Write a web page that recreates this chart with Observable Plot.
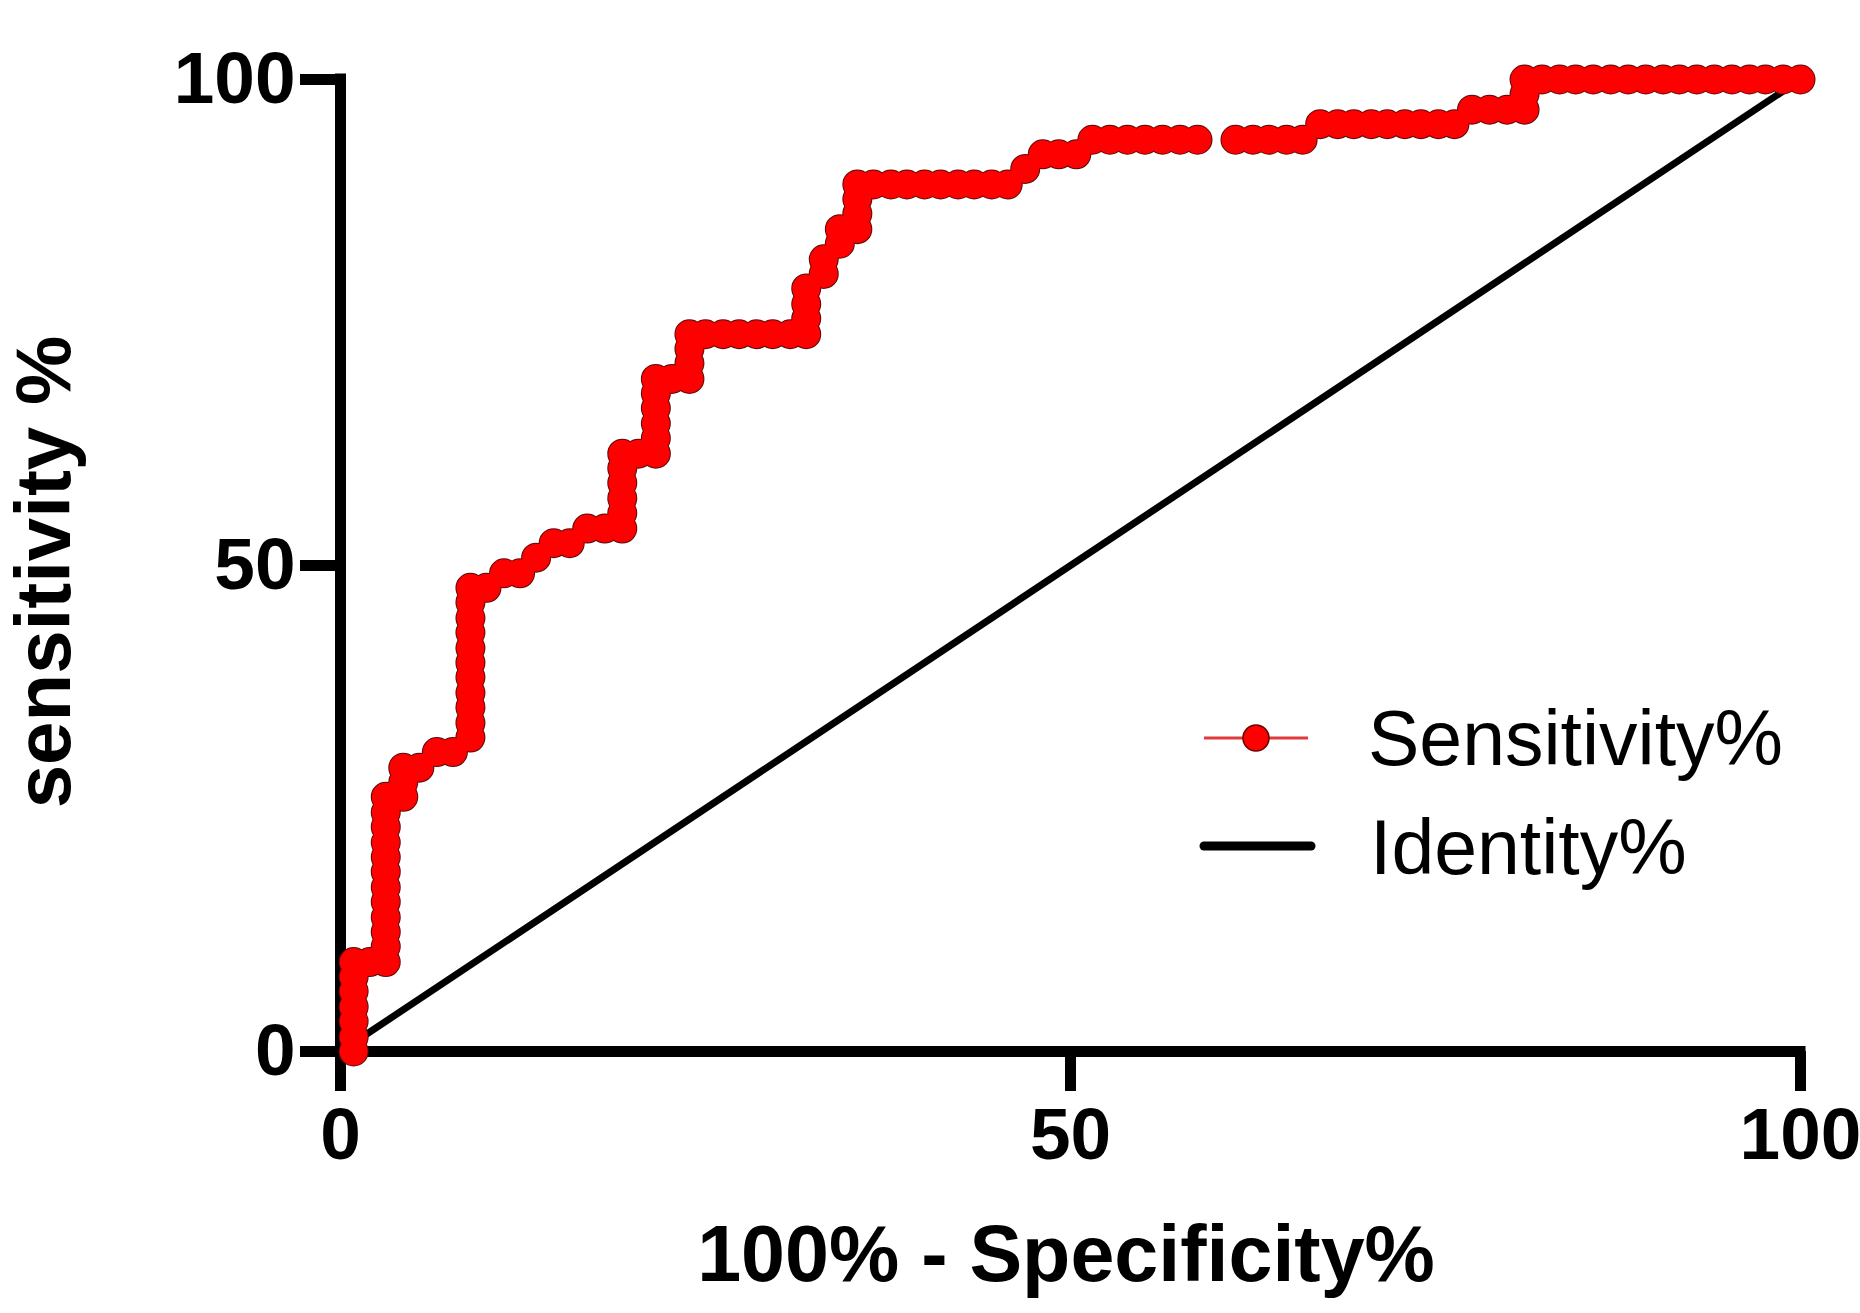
<!DOCTYPE html>
<html>
<head>
<meta charset="utf-8">
<script src="https://cdn.jsdelivr.net/npm/d3@7"></script>
<script src="https://cdn.jsdelivr.net/npm/@observablehq/plot@0.6"></script>
<style>
  html, body { margin: 0; padding: 0; background: white; }
  #wrap { position: relative; width: 1860px; height: 1313px; }
  #overlay { position: absolute; left: 0; top: 0; pointer-events: none; }
</style>
</head>
<body>
<div id="wrap"></div>
<script>
// ROC curve points (100% - specificity %, sensitivity %)
const fpr = [
  0.9,0.9,0.9,0.9,0.9,0.9,0.9,
  2.0,3.1,
  3.1,3.1,3.1,3.1,3.1,3.1,3.1,3.1,3.1,3.1,3.1,
  4.3,4.3,4.3,5.4,6.6,7.7,
  8.9,8.9,8.9,8.9,8.9,8.9,8.9,8.9,8.9,8.9,8.9,
  10.0,11.2,12.3,13.4,14.6,15.7,16.9,18.1,
  19.3,19.3,19.3,19.3,19.3,19.3,
  20.4,21.6,21.6,21.6,21.6,21.6,21.6,
  22.7,23.9,23.9,23.9,23.9,
  25.0,26.2,27.3,28.5,29.6,30.8,
  31.9,31.9,31.9,31.9,
  33.1,33.1,34.2,34.2,
  35.4,35.4,35.4,35.4,
  36.5,37.7,38.8,40.0,41.1,42.3,43.4,44.6,45.7,
  46.9,48.1,49.2,50.4,
  51.5,52.7,53.9,55.1,56.3,57.5,58.7,
  61.3,62.5,63.6,64.8,65.9,
  67.1,68.3,69.4,70.6,71.7,72.9,74.0,75.2,76.3,
  77.5,78.7,79.9,81.1,81.1,81.1,
  82.3,83.5,84.6,85.8,87.0,88.2,89.4,90.6,91.7,92.9,94.1,95.3,96.5,97.6,98.8,100.0
];
const tpr = [
  0,1.5,3.1,4.6,6.2,7.7,9.2,
  9.2,9.2,
  10.8,12.3,13.8,15.4,16.9,18.5,20.0,21.5,23.1,24.6,26.2,
  26.2,27.7,29.2,29.2,30.8,30.8,
  32.3,33.8,35.4,36.9,38.5,40.0,41.5,43.1,44.6,46.2,47.7,
  47.7,49.2,49.2,50.8,52.3,52.3,53.8,53.8,
  53.8,55.4,56.9,58.5,60.0,61.5,
  61.5,61.5,63.1,64.6,66.2,67.7,69.2,
  69.2,69.2,70.8,72.3,73.8,
  73.8,73.8,73.8,73.8,73.8,73.8,
  73.8,75.4,76.9,78.5,
  80.0,81.5,83.1,84.6,
  84.6,86.2,87.7,89.2,
  89.2,89.2,89.2,89.2,89.2,89.2,89.2,89.2,89.2,
  90.8,92.3,92.3,92.3,
  93.8,93.8,93.8,93.8,93.8,93.8,93.8,
  93.8,93.8,93.8,93.8,93.8,
  95.4,95.4,95.4,95.4,95.4,95.4,95.4,95.4,95.4,
  96.9,96.9,96.9,96.9,98.5,100,
  100,100,100,100,100,100,100,100,100,100,100,100,100,100,100,100
];
// the reference curve's line is broken near x = 60%
const lineBreakAt = 60;

// identity (reference) line
const identityX = [0, 100];
const identityY = [0, 100];

// axis ticks
const xTicks = [0, 50, 100];
const yTicks = [0, 50, 100];

// texts
const xTitle = "100% - Specificity%";
const yTitle = "sensitivity %";
const legendLabels = ["Sensitivity%", "Identity%"];

const roc = fpr.map((x, i) => ({x, y: tpr[i], seg: x < lineBreakAt ? "a" : "b"}));
const identity = identityX.map((x, i) => ({x, y: identityY[i]}));

const FONT = "'Liberation Sans', Arial, Helvetica, sans-serif";

const chart = Plot.plot({
  width: 1860,
  height: 1313,
  marginLeft: 340,
  marginRight: 60,
  marginTop: 79,
  marginBottom: 262,
  x: {domain: [0, 100]},
  y: {domain: [0, 100]},
  style: {background: "white", fontFamily: FONT, fontWeight: "bold", color: "black"},
  marks: [
    Plot.ruleX([0], {y1: 0, y2: 100, stroke: "black", strokeWidth: 11, strokeLinecap: "square"}),
    Plot.ruleY([0], {x1: 0, x2: 100, stroke: "black", strokeWidth: 11, strokeLinecap: "square"}),
    Plot.axisY({ticks: yTicks, tickSize: 40, tickPadding: 5, fontSize: 73, fontWeight: "bold", fill: "black", stroke: "black", strokeWidth: 11, label: null}),
    Plot.axisX({ticks: xTicks, tickSize: 40, tickPadding: 16, fontSize: 73, fontWeight: "bold", fill: "black", stroke: "black", strokeWidth: 11, label: null}),
    Plot.line(identity, {x: "x", y: "y", stroke: "black", strokeWidth: 7}),
    Plot.line(roc, {x: "x", y: "y", z: "seg", stroke: "red", strokeWidth: 4}),
    Plot.dot(roc, {x: "x", y: "y", r: 14, fill: "red", stroke: "#5a0a0a", strokeWidth: 2}),
    Plot.dot(roc, {x: "x", y: "y", r: 14, fill: "red", stroke: "none"})
  ]
});

const wrap = document.getElementById("wrap");
wrap.appendChild(chart);

// titles and legend overlay
const ns = "http://www.w3.org/2000/svg";
const ov = document.createElementNS(ns, "svg");
ov.setAttribute("id", "overlay");
ov.setAttribute("width", 1860);
ov.setAttribute("height", 1313);
function el(tag, attrs, text) {
  const e = document.createElementNS(ns, tag);
  for (const k in attrs) e.setAttribute(k, attrs[k]);
  if (text != null) e.textContent = text;
  ov.appendChild(e);
  return e;
}
el("text", {x: 1066, y: 1281, "text-anchor": "middle", "font-family": FONT, "font-weight": "bold", "font-size": 79, fill: "black"}, xTitle);
el("text", {transform: "translate(70,572) rotate(-90)", "text-anchor": "middle", "font-family": FONT, "font-weight": "bold", "font-size": 78, fill: "black"}, yTitle);
// legend
el("line", {x1: 1204, y1: 738, x2: 1308, y2: 738, stroke: "#e03a3a", "stroke-width": 3});
el("circle", {cx: 1256, cy: 738, r: 13, fill: "red", stroke: "#6a0000", "stroke-width": 1.5});
el("text", {x: 1368, y: 765, "font-family": FONT, "font-size": 77, fill: "black"}, legendLabels[0]);
el("line", {x1: 1204, y1: 846, x2: 1311, y2: 846, stroke: "black", "stroke-width": 9, "stroke-linecap": "round"});
el("text", {x: 1370, y: 874, "font-family": FONT, "font-size": 77, fill: "black"}, legendLabels[1]);
wrap.appendChild(ov);
</script>
</body>
</html>
